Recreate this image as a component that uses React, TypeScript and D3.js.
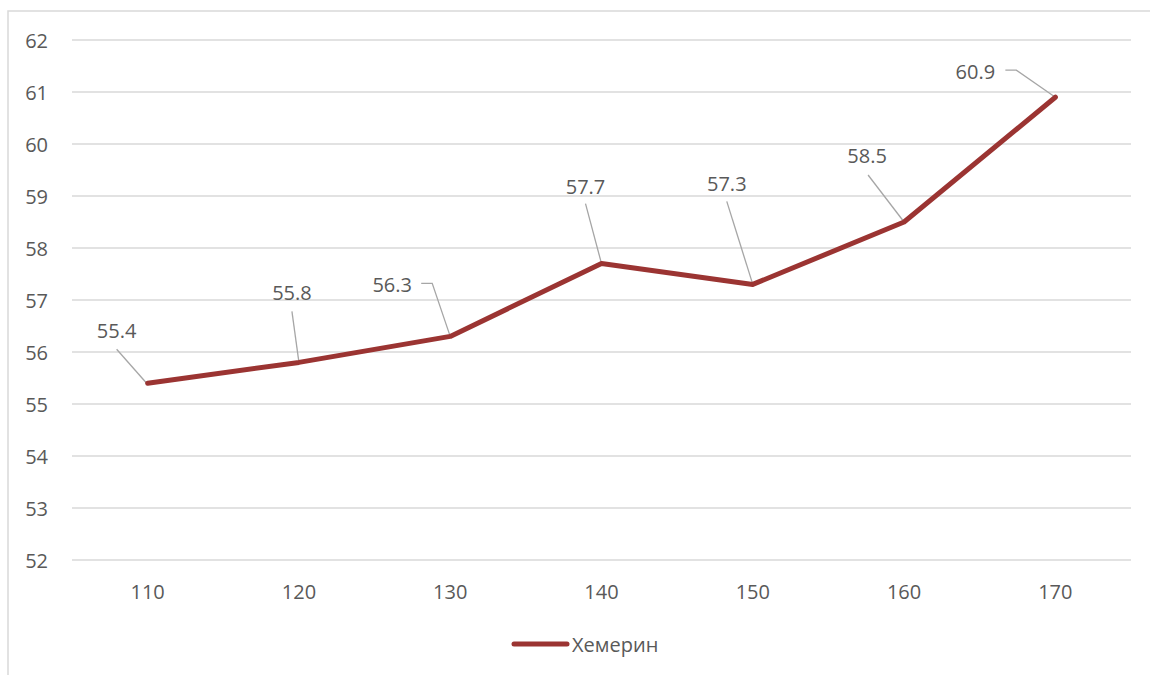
import React from "react";
import * as d3 from "d3";

const categories = ["110", "120", "130", "140", "150", "160", "170"];
const values = [55.4, 55.8, 56.3, 57.7, 57.3, 58.5, 60.9];
const yTicks = [52, 53, 54, 55, 56, 57, 58, 59, 60, 61, 62];
const seriesName = "Хемерин";

// label layout (offsets from data point, px): text center dx, baseline dy, leader path
const labelLayout = [
  { tx: -31, ty: -45, leader: [[-31, -34], [-1, 0]] },
  { tx: -7, ty: -62, leader: [[-7, -51], [0, 0]] },
  { tx: -58, ty: -44, leader: [[-29, -53], [-18, -53], [0, 0]] },
  { tx: -16, ty: -70, leader: [[-16, -60], [0, 0]] },
  { tx: -26, ty: -93, leader: [[-26, -83], [0, 0]] },
  { tx: -37, ty: -59, leader: [[-36, -47], [0, 0]] },
  { tx: -80, ty: -18, leader: [[-50, -27], [-39, -27], [0, 0]] },
];

const W = 1150;
const H = 675;
const left = 72;
const right = 1131;
const top = 40;
const bottom = 560;
const FONT = "'Open Sans', 'Liberation Sans', sans-serif";
const TEXT = "#595959";
const GRID = "#d9d9d9";
const LINE = "#9b3432";

export default function App() {
  const x = d3.scaleBand<string>().domain(categories).range([left, right]);
  const y = d3.scaleLinear().domain([52, 62]).range([bottom, top]);
  const px = (c: string) => (x(c) as number) + x.bandwidth() / 2;
  const line = d3
    .line<number>()
    .x((_, i) => px(categories[i]))
    .y((d) => y(d));
  return (
    <svg
      width={W}
      height={H}
      style={{ position: "absolute", left: 0, top: 0, background: "#fff" }}
      fontFamily={FONT}
    >
      <rect x={8} y={11} width={W + 20} height={H + 20} fill="#fff" stroke={GRID} strokeWidth={1.5} />
      {yTicks.map((t) => (
        <g key={t}>
          <line x1={left} x2={right} y1={y(t)} y2={y(t)} stroke={GRID} strokeWidth={1.3} />
          <text x={48} y={y(t) + 7.5} textAnchor="end" fontSize={20} fill={TEXT}>
            {t}
          </text>
        </g>
      ))}
      {categories.map((c) => (
        <text key={c} x={px(c)} y={599} textAnchor="middle" fontSize={20} fill={TEXT}>
          {c}
        </text>
      ))}
      {values.map((v, i) => {
        const cx = px(categories[i]);
        const cy = y(v);
        const L = labelLayout[i];
        const pts = L.leader.map(([dx, dy]) => [cx + dx, cy + dy] as [number, number]);
        return (
          <g key={i}>
            <path d={d3.line()(pts) as string} fill="none" stroke="#a6a6a6" strokeWidth={1.3} />
          </g>
        );
      })}
      <path d={line(values) as string} fill="none" stroke={LINE} strokeWidth={5} strokeLinejoin="round" strokeLinecap="round" />
      {values.map((v, i) => {
        const cx = px(categories[i]);
        const cy = y(v);
        const L = labelLayout[i];
        return (
          <text key={i} x={cx + L.tx} y={cy + L.ty} textAnchor="middle" fontSize={20} fill={TEXT}>
            {v.toFixed(1)}
          </text>
        );
      })}
      <line x1={514} x2={567} y1={644} y2={644} stroke={LINE} strokeWidth={5} strokeLinecap="round" />
      <text x={572} y={652} fontSize={20} fill={TEXT}>
        {seriesName}
      </text>
    </svg>
  );
}
